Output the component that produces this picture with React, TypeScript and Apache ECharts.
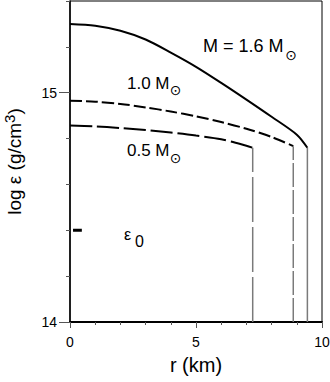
import React, { useEffect, useRef } from 'react';
import * as echarts from 'echarts';

// 1.6 solar-mass star (solid)
const rHeavy = [0, 1, 2, 3, 4, 5, 6, 7, 8, 9, 9.42];
const logHeavy = [15.3, 15.292, 15.27, 15.232, 15.175, 15.113, 15.043, 14.97, 14.895, 14.817, 14.76];
// 1.0 solar-mass star (short dashes)
const rMid = [0, 1, 2, 3, 4, 5, 6, 7, 8, 8.86];
const logMid = [14.965, 14.961, 14.951, 14.936, 14.918, 14.897, 14.872, 14.843, 14.807, 14.767];
// 0.5 solar-mass star (long dashes)
const rLight = [0, 1, 2, 3, 4, 5, 6, 7, 7.25];
const logLight = [14.857, 14.853, 14.846, 14.837, 14.826, 14.813, 14.797, 14.769, 14.76];
// nuclear density marker
const eps0 = 14.4;
const eps0Span = [0.12, 0.47];

const xTickLabels = [0, 5, 10];
const yTickLabels = [14, 15];
const yMin = 14;
const yMax = 15.4;

const FONT = '"Liberation Sans", Arial, Helvetica, sans-serif';
const GRAY = '#7a7a7a';

const pairs = (xs: number[], ys: number[]) => xs.map((x, i) => [x, ys[i]]);
const drop = (xs: number[], ys: number[]) => {
  const x = xs[xs.length - 1];
  return [[x, yMin], [x, ys[ys.length - 1]]];
};

export default function App() {
  const ref = useRef<HTMLDivElement>(null);
  useEffect(() => {
    if (!ref.current) return;
    const chart = echarts.init(ref.current, null, { renderer: 'svg' });
    const lineSeries = (data: number[][], color: string, width: number, type: any, smooth: any = false) => ({
      type: 'line',
      data,
      showSymbol: false,
      symbol: 'none',
      silent: true,
      smooth,
      lineStyle: { color, width, type },
      z: 3,
    });
    const sun = (x: number, y: number) => ({
      type: 'text',
      x,
      y,
      style: { text: '⊙', font: `14px "DejaVu Sans"`, fill: '#000', textAlign: 'center', textVerticalAlign: 'middle' },
    });
    const label = (x: number, y: number, text: string, size = 17) => ({
      type: 'text',
      x,
      y,
      style: { text, font: `${size}px ${FONT}`, fill: '#000', textAlign: 'left', textVerticalAlign: 'middle' },
    });
    chart.setOption({
      animation: false,
      grid: {
        left: 70,
        right: 8,
        top: 1,
        bottom: 60,
        outerBoundsMode: 'none',
        containLabel: false,
        show: true,
        borderColor: '#000',
        borderWidth: 1,
        backgroundColor: 'transparent',
      },
      xAxis: [
        {
          type: 'value',
          min: 0,
          max: 10,
          interval: 5,
          name: 'r (km)',
          nameLocation: 'middle',
          nameGap: 33,
          nameTextStyle: { fontFamily: FONT, fontSize: 20, color: '#000' },
          axisLine: { show: true, onZero: false, lineStyle: { color: '#000', width: 2 } },
          axisTick: { show: true, length: 6, lineStyle: { color: '#555', width: 1 } },
          axisLabel: {
            margin: 13,
            fontFamily: FONT,
            fontSize: 14,
            color: '#000',
            formatter: (v: number) => (xTickLabels.includes(v) ? String(v) : ''),
          },
          minorTick: { show: true, splitNumber: 5, length: 3, lineStyle: { color: '#555', width: 1 } },
          splitLine: { show: false },
        },
      ],
      yAxis: [
        {
          type: 'value',
          min: yMin,
          max: yMax,
          interval: 1,
          position: 'left',
          name: '{a|log ε (g/cm}{s|3}{a|)}',
          nameLocation: 'middle',
          nameRotate: 90,
          nameGap: 44,
          nameTextStyle: {
            fontFamily: FONT,
            fontSize: 19,
            color: '#000',
            rich: {
              a: { fontFamily: FONT, fontSize: 19, lineHeight: 24, color: '#000' },
              s: { fontFamily: FONT, fontSize: 15, lineHeight: 20, verticalAlign: 'top', color: '#000' },
            },
          },
          axisLine: { show: true, onZero: false, lineStyle: { color: '#000', width: 1.5 } },
          axisTick: { show: true, length: 11, customValues: yTickLabels, lineStyle: { color: '#555', width: 1 } },
          axisLabel: {
            margin: 13,
            fontFamily: FONT,
            fontSize: 14,
            color: '#000',
            customValues: yTickLabels,
            formatter: (v: number) => String(Math.round(v * 1000) / 1000),
          },
          splitLine: { show: false },
        },
        {
          type: 'value',
          min: yMin,
          max: yMax,
          interval: 0.2,
          position: 'left',
          offset: 0,
          axisLine: { show: false },
          axisTick: { show: true, length: 4, lineStyle: { color: '#555', width: 1 } },
          axisLabel: { show: false },
          splitLine: { show: false },
        },
      ],
      graphic: [
        label(203, 46, 'M = 1.6 M', 18),
        sun(291, 55),
        label(127, 83, '1.0 M'),
        sun(175.5, 90),
        label(127, 150, '0.5 M'),
        sun(175.5, 157.5),
        label(124, 234.5, 'ε', 16),
        label(135, 241, '0', 16),
      ],
      series: [
        lineSeries(pairs(rHeavy, logHeavy), '#000', 2, 'solid', 0.3),
        lineSeries(pairs(rMid, logMid), '#000', 2, [12, 4], 0.3),
        lineSeries(pairs(rLight, logLight), '#000', 2, [22, 5], 0.3),
        lineSeries(drop(rHeavy, logHeavy), GRAY, 1.5, 'solid'),
        lineSeries(drop(rMid, logMid), GRAY, 1.5, [24, 3]),
        lineSeries(drop(rLight, logLight), GRAY, 1.5, [45, 5]),
        lineSeries([[eps0Span[0], eps0], [eps0Span[1], eps0]], '#000', 3, 'solid'),
      ],
    });
    return () => chart.dispose();
  }, []);
  return <div ref={ref} style={{ width: 330, height: 382, position: 'absolute', left: 0, top: 0 }} />;
}
